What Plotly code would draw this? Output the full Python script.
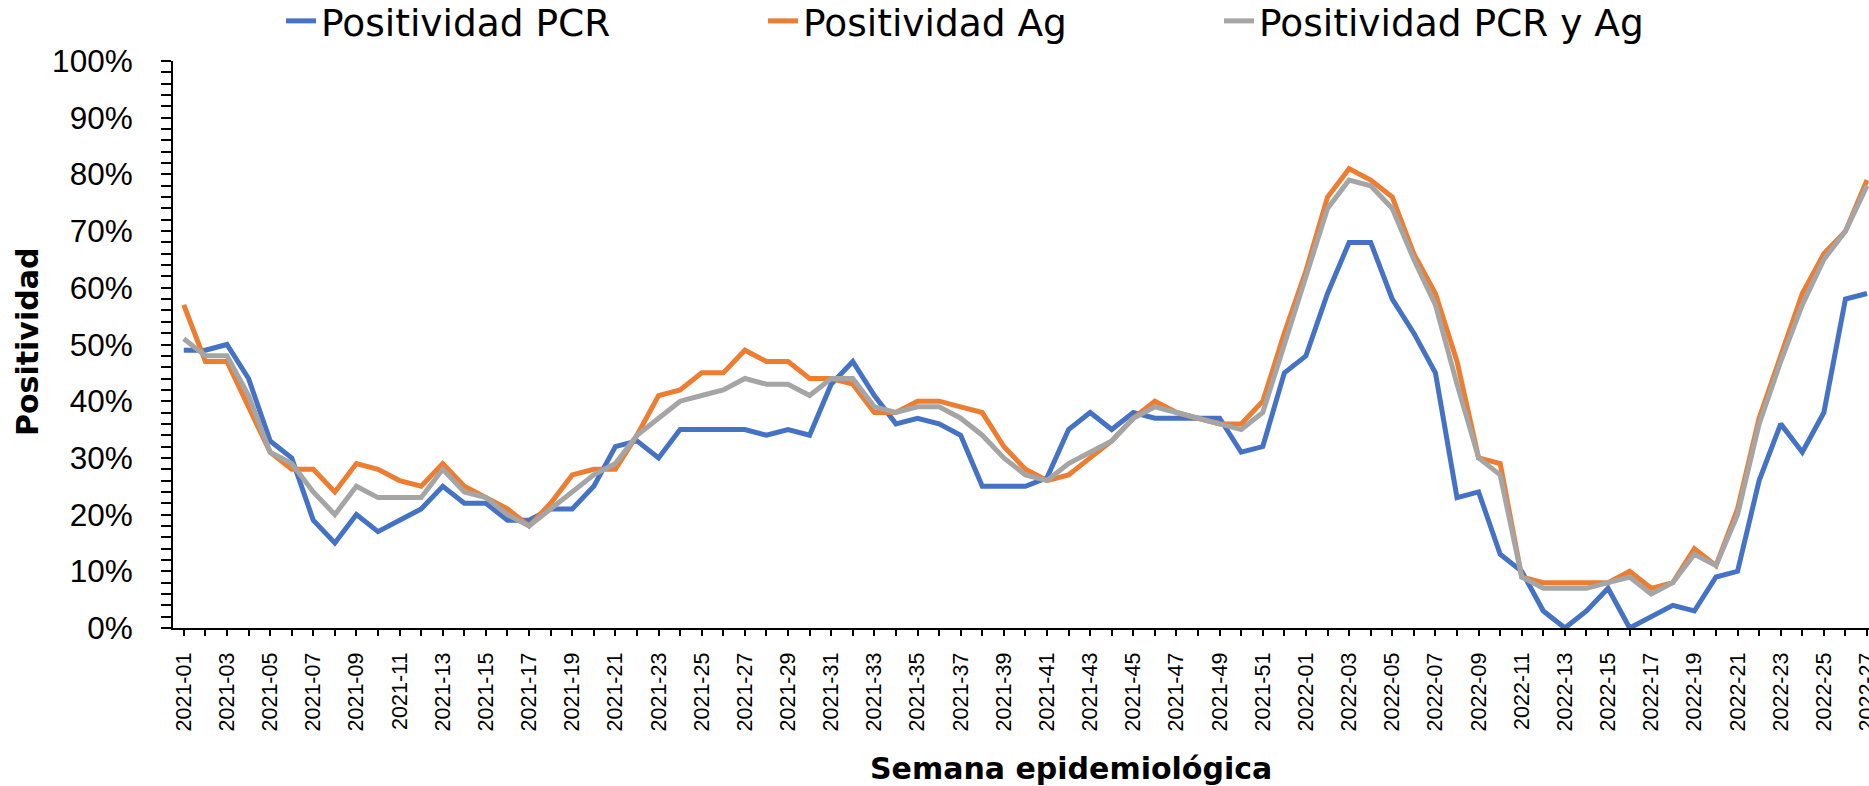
import plotly.graph_objects as go

# Weeks: 2021-01 .. 2021-52, 2022-01 .. 2022-27
weeks = [f"2021-{w:02d}" for w in range(1, 53)] + [f"2022-{w:02d}" for w in range(1, 28)]

pcr = [49, 49, 50, 44, 33, 30, 19, 15, 20, 17, 19, 21, 25, 22, 22, 19, 19, 21, 21, 25,
       32, 33, 30, 35, 35, 35, 35, 34, 35, 34, 43, 47, 41, 36, 37, 36, 34, 25, 25, 25,
       26.5, 35, 38, 35, 38, 37, 37, 37, 37, 31, 32, 45, 48, 59, 68, 68, 58, 52, 45, 23,
       24, 13, 10, 3, 0, 3, 7, 0, 2, 4, 3, 9, 10, 26, 36, 31, 38, 58, 59]

ag = [57, 47, 47, 39, 31, 28, 28, 24, 29, 28, 26, 25, 29, 25, 23, 21, 18, 22, 27, 28,
      28, 34, 41, 42, 45, 45, 49, 47, 47, 44, 44, 43, 38, 38, 40, 40, 39, 38, 32, 28,
      26, 27, 30, 33, 37, 40, 38, 37, 36, 36, 40, 52, 63, 76, 81, 79, 76, 66, 59, 47,
      30, 29, 9, 8, 8, 8, 8, 10, 7, 8, 14, 11, 21, 37, 48, 59, 66, 70, 79]

pcr_ag = [51, 48, 48, 41, 31, 29, 24, 20, 25, 23, 23, 23, 28, 24, 23, 20, 18, 21, 24, 27,
          29, 34, 37, 40, 41, 42, 44, 43, 43, 41, 44, 44, 39, 38, 39, 39, 37, 34, 30, 27,
          26, 29, 31, 33, 37, 39, 38, 37, 36, 35, 38, 50, 62, 74, 79, 78, 74, 65, 57, 43,
          30, 27, 9, 7, 7, 7, 8, 9, 6, 8, 13, 11, 20, 36, 47, 57, 65, 70, 78]

series_names = ["Positividad PCR", "Positividad Ag", "Positividad PCR y Ag"]
series_values = [pcr, ag, pcr_ag]
series_colors = ["#4472C4", "#ED7D31", "#A5A5A5"]

tick_text = [w if i % 2 == 0 else "" for i, w in enumerate(weeks)]

W, H = 1869, 786
L, R, T, B = 173, 0, 61, 158
pw = W - L - R
ph = H - T - B

legend_ids = ["legend", "legend2", "legend3"]
legend_text_px = [330, 812, 1268]  # where each legend text starts (px)

fig = go.Figure()
for name, vals, col, lid in zip(series_names, series_values, series_colors, legend_ids):
    fig.add_trace(go.Scatter(
        x=weeks, y=[v / 100 for v in vals], name=name, mode="lines",
        line=dict(color=col, width=5), legend=lid,
    ))

legend_common = dict(
    orientation="h", xanchor="left", yanchor="middle",
    y=(H - B - 21) / ph,
    font=dict(family="DejaVu Sans", size=37.5, color="#000000"),
    itemwidth=30, bgcolor="rgba(0,0,0,0)", borderwidth=0,
)
legends = {}
for lid, tx in zip(legend_ids, legend_text_px):
    legends[lid] = dict(legend_common, x=(tx - 49 - L) / pw)

fig.update_layout(
    width=W, height=H,
    margin=dict(l=L, r=R, t=T, b=B, autoexpand=False),
    paper_bgcolor="white", plot_bgcolor="white",
    showlegend=True,
    **legends,
    xaxis=dict(
        type="category", range=[-0.5, -0.5 + pw / 21.58],
        tickmode="array", tickvals=weeks, ticktext=tick_text,
        tickangle=-90, ticks="outside", ticklen=6, tickwidth=1.5, tickcolor="#000000",
        tickfont=dict(family="Liberation Sans", size=21.5, color="#000000"),
        showline=True, linecolor="#000000", linewidth=2,
        showgrid=False, zeroline=False, automargin=False,
        ticklabelstandoff=8,
    ),
    yaxis=dict(
        range=[0, 1], tickmode="linear", tick0=0, dtick=0.1, tickformat=".0%",
        ticks="outside", ticklen=10, tickwidth=1.5, tickcolor="#000000",
        minor=dict(dtick=0.02, ticks="outside", ticklen=10, tickwidth=1.5, tickcolor="#000000", showgrid=False),
        tickfont=dict(family="Liberation Sans", size=31.5, color="#000000"),
        showline=True, linecolor="#000000", linewidth=2,
        showgrid=False, zeroline=False, automargin=False,
        ticklabelstandoff=22,
    ),
    annotations=[
        dict(text="<b>Semana epidemiológica</b>", xref="paper", yref="paper",
             x=(1071 - L) / pw, y=(H - B - 768) / ph, xanchor="center", yanchor="middle",
             showarrow=False, font=dict(family="DejaVu Sans", size=30, color="#000000")),
        dict(text="<b>Positividad</b>", xref="paper", yref="paper", textangle=-90,
             x=(27 - L) / pw, y=(H - B - 342) / ph, xanchor="center", yanchor="middle",
             showarrow=False, font=dict(family="DejaVu Sans", size=30, color="#000000")),
    ],
)

fig.write_html(
    "out.html",
    config={"displayModeBar": False},
    post_script="document.body.style.margin='0';document.body.style.overflow='hidden';",
)
